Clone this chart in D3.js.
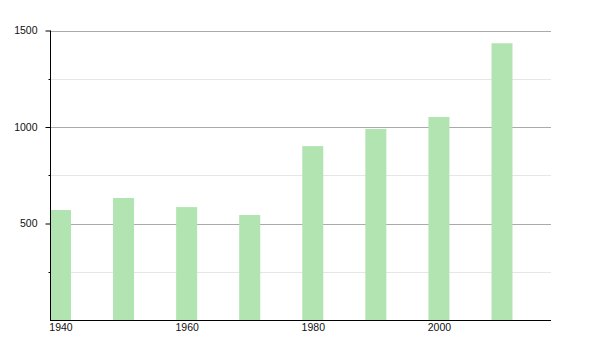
<!DOCTYPE html>
<html>
<head>
<meta charset="utf-8">
<script src="https://cdn.jsdelivr.net/npm/d3@7"></script>
<style>
  body { margin: 0; background: #fff; }
  text { font-family: "Liberation Sans", Arial, sans-serif; font-size: 10.5px; fill: #111; }
</style>
</head>
<body>
<script>
const years = [1940, 1950, 1960, 1970, 1980, 1990, 2000, 2010];
const population = [570, 632, 585, 544, 901, 990, 1052, 1434];
const xTicks = [1940, 1960, 1980, 2000];
const yMajor = [500, 1000, 1500];
const yMinor = [250, 750, 1250];

const w = 600;
const h = 350;
const plotLeft = 50;
const plotRight = 551;
const plotTop = 30.5;
const plotBottom = 320;
const barW = 21;

const x = d3.scaleLinear()
            .domain([1940, 2010])
            .range([plotLeft + barW / 2, 502]);

const y = d3.scaleLinear()
            .domain([0, 1500])
            .range([plotBottom, plotTop]);

const svg = d3.select("body")
              .append("svg")
              .attr("width", w)
              .attr("height", h);

// grid
svg.selectAll("line.minor")
   .data(yMinor)
   .enter()
   .append("line")
   .attr("class", "minor")
   .attr("x1", plotLeft)
   .attr("x2", plotRight)
   .attr("y1", d => Math.round(y(d)) + 0.5)
   .attr("y2", d => Math.round(y(d)) + 0.5)
   .attr("stroke", "#e6e6e6");

svg.selectAll("line.major")
   .data(yMajor)
   .enter()
   .append("line")
   .attr("class", "major")
   .attr("x1", plotLeft)
   .attr("x2", plotRight)
   .attr("y1", d => Math.round(y(d)) + 0.5)
   .attr("y2", d => Math.round(y(d)) + 0.5)
   .attr("stroke", "#aaaaaa");

// bars
svg.selectAll("rect")
   .data(years)
   .enter()
   .append("rect")
   .attr("x", d => x(d) - barW / 2)
   .attr("y", (d, i) => y(population[i]))
   .attr("width", barW)
   .attr("height", (d, i) => plotBottom - y(population[i]))
   .attr("fill", "#b1e4b0");

// y axis
const yAxis = d3.axisLeft(y)
                .tickValues(yMajor)
                .tickFormat(d3.format("d"))
                .tickSize(5)
                .tickSizeOuter(0)
                .tickPadding(8);

const gy = svg.append("g")
              .attr("transform", `translate(${plotLeft + 0.5},0)`)
              .call(yAxis);
gy.select(".domain").remove();
gy.attr("font-family", null).attr("font-size", null);
gy.selectAll("line").attr("stroke", "#000");

svg.selectAll("line.ytickminor")
   .data(yMinor)
   .enter()
   .append("line")
   .attr("class", "ytickminor")
   .attr("x1", plotLeft - 1.5)
   .attr("x2", plotLeft)
   .attr("y1", d => Math.round(y(d)) + 0.5)
   .attr("y2", d => Math.round(y(d)) + 0.5)
   .attr("stroke", "#000");

svg.append("line")
   .attr("x1", plotLeft + 0.5)
   .attr("x2", plotLeft + 0.5)
   .attr("y1", plotTop)
   .attr("y2", plotBottom)
   .attr("stroke", "#000");

// x axis
const xAxis = d3.axisBottom(x)
                .tickValues(xTicks)
                .tickFormat(d3.format("d"))
                .tickSize(0)
                .tickPadding(4);

const gx = svg.append("g")
              .attr("transform", `translate(0,${plotBottom})`)
              .call(xAxis);
gx.select(".domain").remove();
gx.attr("font-family", null).attr("font-size", null);

svg.append("line")
   .attr("x1", plotLeft)
   .attr("x2", plotRight)
   .attr("y1", plotBottom + 0.5)
   .attr("y2", plotBottom + 0.5)
   .attr("stroke", "#000");
</script>
</body>
</html>
